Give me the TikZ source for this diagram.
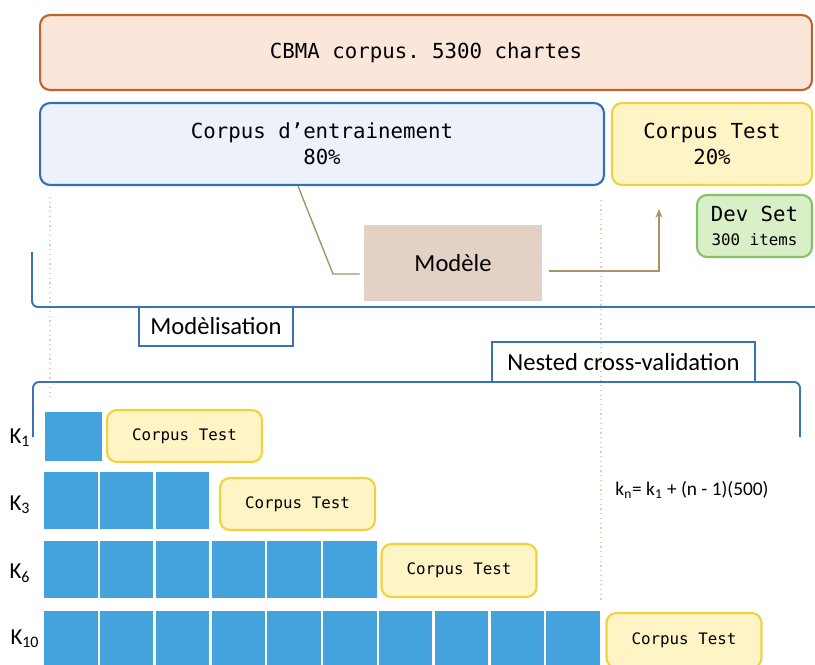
\documentclass[tikz,border=0pt]{standalone}
\usepackage{fontspec}
\setmainfont{Carlito}
\setmonofont{DejaVu Sans Mono}
\usepackage{xcolor}
\usetikzlibrary{arrows.meta}
\definecolor{cbmafill}{HTML}{FBE7DA}
\definecolor{cbmaline}{HTML}{C2612A}
\definecolor{trainfill}{HTML}{EDF2FA}
\definecolor{trainline}{HTML}{3470B4}
\definecolor{testfill}{HTML}{FFF4C6}
\definecolor{testline}{HTML}{F0D23E}
\definecolor{devfill}{HTML}{D8EFC8}
\definecolor{devline}{HTML}{86C062}
\definecolor{modelfill}{HTML}{E3D1C5}
\definecolor{cellblue}{HTML}{44A2DC}
\definecolor{linkcol}{HTML}{A89366}
\definecolor{brackcol}{HTML}{3A72B8}
\definecolor{guidecol}{HTML}{E8CBAA}
\tikzset{
  box/.style={rounded corners=0.2cm, line width=1.2pt, inner sep=0pt, align=center,
    font=\ttfamily\fontsize{11.8}{14.7}\selectfont},
  cbmabox/.style={box, draw=cbmaline, fill=cbmafill},
  trainbox/.style={box, draw=trainline, fill=trainfill},
  testbox/.style={box, draw=testline, fill=testfill},
  devbox/.style={box, draw=devline, fill=devfill},
  ktest/.style={testbox, minimum width=3.1cm, font=\ttfamily\fontsize{9}{11}\selectfont},
  modelbox/.style={fill=modelfill, inner sep=0pt, font=\fontsize{14}{17}\selectfont},
  cell/.style={fill=cellblue, draw=white, line width=1.4pt, inner sep=0pt},
  link/.style={draw=linkcol, line width=0.8pt},
  bracket/.style={draw=brackcol, line width=1.1pt, rounded corners=0.12cm},
  tagline/.style={draw=brackcol, line width=1.1pt},
  guide/.style={draw=guidecol, line width=0.7pt, dotted},
  tag/.style={inner sep=0pt, font=\fontsize{14}{17}\selectfont},
  klbl/.style={font=\fontsize{13}{15}\selectfont},
  formula/.style={font=\fontsize{11}{13}\selectfont}
}

\begin{document}
\begin{tikzpicture}[x=0.02cm, y=-0.02cm]
  % frame of the 815 x 664 picture
  \clip (0,0) rectangle (815,664);
  \fill[white] (0,0) rectangle (815,664);

  % guides
  \draw[guide] (50,197) -- (50,400);
  \draw[guide] (601,200) -- (601,603);

  % corpus split
  \node[cbmabox, minimum width=15.44cm, minimum height=1.5cm] (cbma) at (426,52.5) {CBMA corpus. 5300 chartes};
  \node[trainbox, minimum width=11.28cm, minimum height=1.64cm] (train) at (322,144) {Corpus d’entrainement\\80\%};
  \node[testbox, minimum width=4cm, minimum height=1.64cm] (test) at (712,144) {Corpus Test\\20\%};
  \node[devbox, minimum width=2.3cm, minimum height=1.24cm] (dev) at (754.5,226)
    {Dev Set\\[-1pt]{\fontsize{9}{11}\selectfont 300 items}};
  \node[modelbox, minimum width=3.56cm, minimum height=1.52cm] (model) at (453,263) {\raisebox{-4pt}{Modèle}};

  % training -> model -> test
  \coordinate (devin) at (659,209);
  \draw[link] (train.south) ++(-24,0) -- (333,274) -- ([xshift=-0.08cm, yshift=-0.22cm]model.west);
  \draw[link, -{Stealth[length=5pt, width=4pt]}] ([xshift=0.14cm, yshift=-0.16cm]model.east) -| (devin);

  % modelisation bracket
  \draw[bracket] (32,252) -- (32,307) -- (830,307);
  \node[tag, minimum width=3.08cm, minimum height=0.78cm] (modlab) at (216,326.5) {Modèlisation};
  \draw[tagline] (modlab.north west) -- (modlab.south west) -- (modlab.south east) -- (modlab.north east);

  % nested cross-validation bracket
  \draw[bracket] (33,437) -- (33,382) -- (800,382) -- (800,437);
  \node[tag, minimum width=5.26cm, minimum height=0.8cm] (nestlab) at (623.5,362) {Nested cross-validation};
  \draw[tagline] (nestlab.south west) -- (nestlab.north west) -- (nestlab.north east) -- (nestlab.south east);

  % folds
  \node[cell, minimum width=1.2cm, minimum height=1.02cm] (k1c1) at (73.5,436.5) {};
  \foreach \n/\y/\h in {3/500.5/1.18cm, 6/569.5/1.18cm, 10/639/1.16cm}{
    \foreach \i in {1,...,\n}
      \node[cell, minimum width=1.116cm, minimum height=\h] (k\n c\i) at ({43+55.8*(\i-1)+27.9},\y) {};
  }
  \node[ktest, minimum height=1.04cm] (kt1) at (184.5,436) {Corpus Test};
  \node[ktest, minimum height=1.04cm] (kt3) at (297.5,504) {Corpus Test};
  \node[ktest, minimum height=1.06cm] (kt6) at (459,570.5) {Corpus Test};
  \node[ktest, minimum height=1.1cm] (kt10) at (684,640.5) {Corpus Test};

  \node[klbl] (k1) at (20,438) {K\textsubscript{1}};
  \node[klbl] (k3) at (20,505) {K\textsubscript{3}};
  \node[klbl] (k6) at (20,573) {K\textsubscript{6}};
  \node[klbl] (k10) at (25,639) {K\textsubscript{10}};

  \node[formula] (rule) at (692,490) {k\textsubscript{n}= k\textsubscript{1} + (n - 1)(500)};
\end{tikzpicture}
\end{document}
